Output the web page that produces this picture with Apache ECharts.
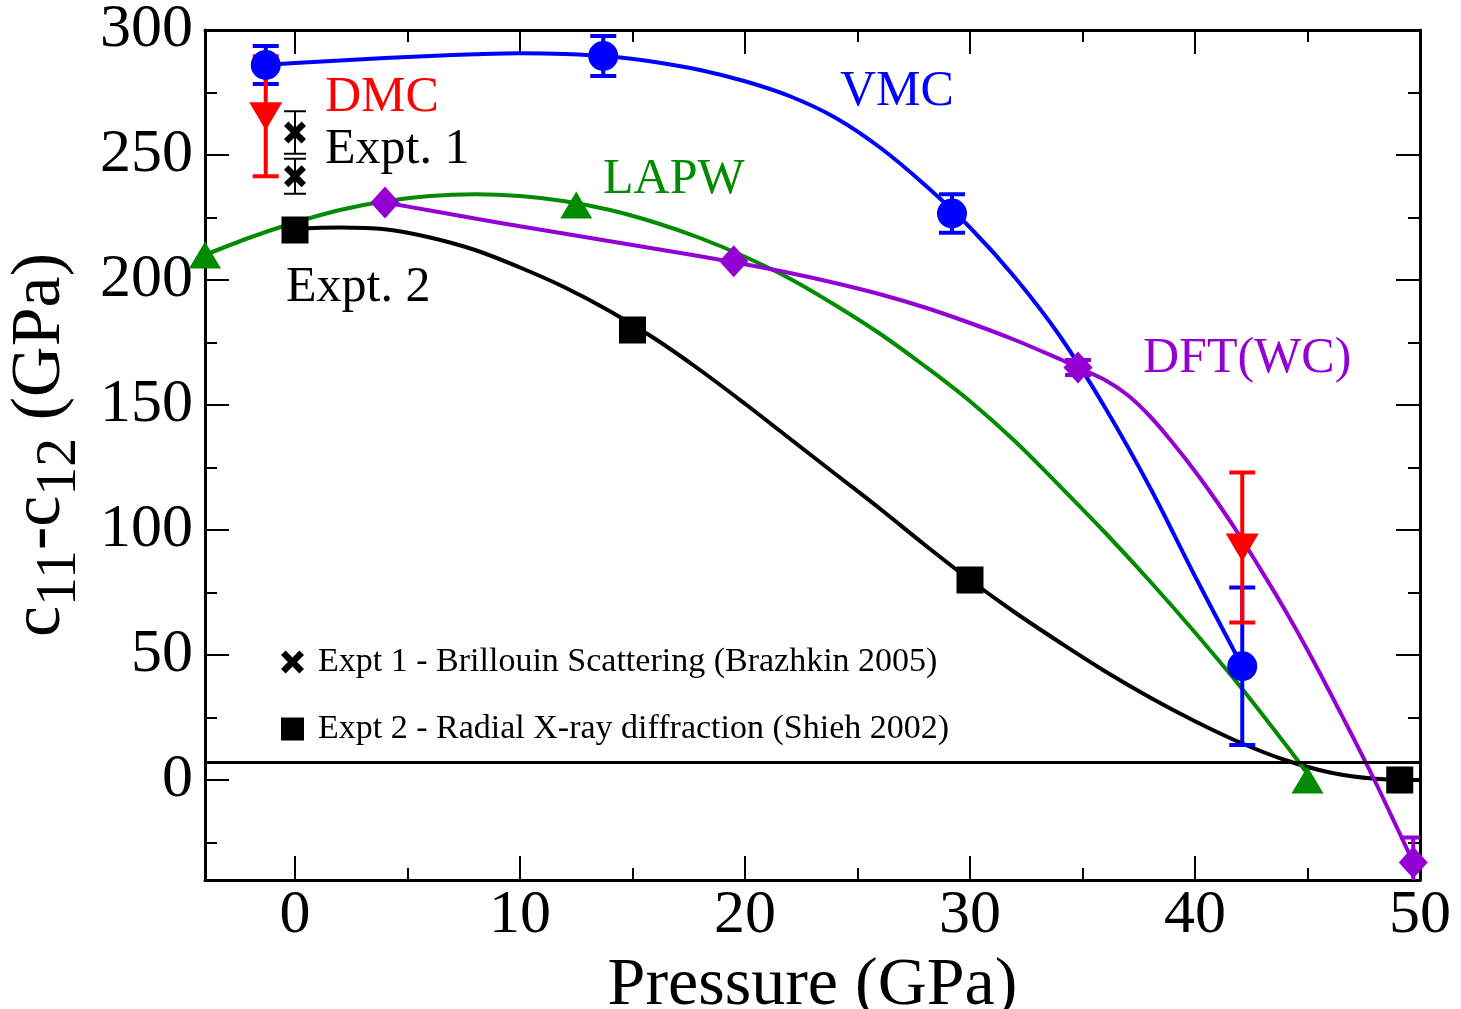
<!DOCTYPE html>
<html>
<head>
<meta charset="utf-8">
<title>c11-c12 vs pressure</title>
<script src="https://cdn.jsdelivr.net/npm/echarts@6/dist/echarts.min.js"></script>
<style>
    html, body { margin: 0; padding: 0; background: #fff; }
    #chart { width: 1461px; height: 1009px; }
</style>
</head>
<body>
<div id="chart"></div>
<script>
// 刻度
var xMajorTicks = [0, 10, 20, 30, 40, 50];
var xMinorTicks = [5, 15, 25, 35, 45];
var yMajorTicks = [0, 50, 100, 150, 200, 250, 300];
var yMinorTicks = [-25, 25, 75, 125, 175, 225, 275];

// 数据点 [pressure, value, error]
var vmcPoints = [[-1.3, 286, 7.6], [13.7, 289.6, 8], [29.2, 226.6, 7.7], [42.1, 45.5, 31.5]];
var dmcPoints = [[-1.3, 265.5, 24], [42.1, 93, 30]];
var expt1Points = [[0, 259, 8.5], [0, 241.5, 7]];
var expt2Points = [[0, 220], [15, 180], [30, 80], [49.1, 0]];
var lapwPoints = [[-4, 210], [12.5, 230], [45, 0]];
var dftPoints = [[4, 231, 0], [19.5, 207.5, 0], [34.8, 165, 3], [49.7, -33, 10]];

// 拟合曲线
var vmcCurve = [[-1.3, 286], [0, 286.8], [2, 287.8], [4, 288.8], [6, 289.6], [8, 290.3], [10, 290.7],
    [12, 290.4], [14, 289.4], [16, 287.2], [18, 284], [20, 279.5], [22, 273.5], [24, 265], [26, 253],
    [28, 238], [30, 221], [32, 201], [34, 177.5], [36, 149], [38, 117], [40, 81.5], [42.1, 45.5]];
var lapwCurve = [[-4, 210], [-2, 217], [0, 223], [2, 228], [4, 231.5], [6, 233.6], [8, 234.3],
    [10, 233.6], [12, 231.5], [14, 228], [16, 223], [18, 216.8], [20, 209.3], [22, 200.5], [24, 190],
    [26, 178.5], [28, 165.5], [30, 151.5], [32, 135.5], [34, 117.5], [36, 99], [38, 79.5], [40, 59],
    [42, 37.5], [44, 14.5], [45, 2.5]];
var expt2Curve = [[0, 220.5], [2, 221], [4, 220.3], [6, 217], [8, 212], [10, 205], [12, 197], [14, 187.5],
    [16, 176.5], [18, 164], [20, 150.5], [22, 136.5], [24, 122.5], [26, 108.5], [28, 94], [30, 80],
    [32, 67], [34, 55], [36, 43.5], [38, 33], [40, 23.5], [42, 15], [44, 8], [46, 3], [48, 0.5], [50, 0]];
var dftCurve = [[4, 231], [6, 227.8], [8, 224.6], [10, 221.5], [12, 218.5], [14, 215.5], [16, 212.5],
    [18, 209.5], [20, 206.3], [22, 202.8], [24, 198.8], [26, 194.3], [28, 189], [30, 182.8], [32, 176],
    [34, 168.3], [34.8, 165], [36, 160], [37, 154], [38, 145.5], [39, 135], [40, 123.5], [41, 111],
    [42, 97.5], [43, 83], [44, 68], [45, 52], [46, 35], [47, 17.5], [48, -0.5], [49, -19.5], [49.7, -33]];

// 水平参考线
var refLevel = 7;

var FONT = 'Liberation Serif';
var BLUE = '#0000ff', RED = '#ff0000', GREEN = '#008b00', VIOLET = '#9400d3', BLACK = '#000000';

var expt1Name = 'Expt 1 - Brillouin Scattering (Brazhkin 2005)';
var expt2Name = 'Expt 2 - Radial X-ray diffraction (Shieh 2002)';
var crossPath = 'path://M0,2L2,0L5,3L8,0L10,2L7,5L10,8L8,10L5,7L2,10L0,8L3,5Z';

/**
 * 误差棒
 */
function errorBar(capHalf, width, color) {
    return function (params, api) {
        var x = api.value(0), y = api.value(1), e = api.value(2);
        if (!e) {
            return null;
        }
        var hi = api.coord([x, y + e]);
        var lo = api.coord([x, y - e]);
        var style = { stroke: color, lineWidth: width, fill: null };
        return {
            type: 'group',
            children: [
                { type: 'line', shape: { x1: hi[0], y1: hi[1], x2: lo[0], y2: lo[1] }, style: style },
                { type: 'line', shape: { x1: hi[0] - capHalf, y1: hi[1], x2: hi[0] + capHalf, y2: hi[1] }, style: style },
                { type: 'line', shape: { x1: lo[0] - capHalf, y1: lo[1], x2: lo[0] + capHalf, y2: lo[1] }, style: style }
            ]
        };
    };
}

function curve(data, color) {
    return {
        type: 'line', data: data, smooth: 0.35, showSymbol: false, symbol: 'none',
        lineStyle: { color: color, width: 4 }, z: 3, silent: true
    };
}

function errSeries(data, capHalf, width, color) {
    return {
        type: 'custom', data: data, renderItem: errorBar(capHalf, width, color),
        encode: { x: 0, y: 1 }, z: 4, clip: true, silent: true
    };
}

function dots(name, data, symbol, size, color, extra) {
    var s = {
        type: 'scatter', name: name, data: data, symbol: symbol, symbolSize: size,
        itemStyle: { color: color, opacity: 1 }, z: 5, silent: true
    };
    return Object.assign(s, extra || {});
}

function axisX(grid, pos, ticks, len, withLabel) {
    return {
        type: 'value', gridIndex: grid, position: pos, min: -4, max: 50,
        axisLine: { show: grid === 0, onZero: false, lineStyle: { color: BLACK, width: 3 } },
        axisTick: { inside: true, length: len, customValues: ticks, lineStyle: { color: BLACK, width: 2 } },
        axisLabel: withLabel ? { customValues: ticks, fontFamily: FONT, fontSize: 62, color: BLACK, margin: 5 } : { show: false },
        splitLine: { show: false }
    };
}

function axisY(grid, pos, ticks, len, withLabel) {
    return {
        type: 'value', gridIndex: grid, position: pos, min: -40, max: 300,
        axisLine: { show: grid === 0, onZero: false, lineStyle: { color: BLACK, width: 3 } },
        axisTick: { inside: true, length: len, customValues: ticks, lineStyle: { color: BLACK, width: 2 } },
        axisLabel: withLabel ? { customValues: ticks, fontFamily: FONT, fontSize: 62, color: BLACK, margin: 12, padding: [8, 0, 0, 0] } : { show: false },
        splitLine: { show: false }
    };
}

var gridBox = { left: 205, right: 41, top: 30, bottom: 129, containLabel: false, outerBoundsMode: 'none' };

var xBottom = axisX(0, 'bottom', xMajorTicks, 24, true);
xBottom.name = 'Pressure (GPa)';
xBottom.nameLocation = 'middle';
xBottom.nameGap = 30;
xBottom.nameTextStyle = { fontFamily: FONT, fontSize: 68, color: BLACK };

var yLeft = axisY(0, 'left', yMajorTicks, 24, true);
yLeft.name = 'c{sub|11}-c{sub|12} (GPa)';
yLeft.nameLocation = 'middle';
yLeft.nameGap = 84;
yLeft.nameTextStyle = {
    fontFamily: FONT, fontSize: 70, color: BLACK, padding: [0, 0, 0, 20],
    rich: { sub: { fontFamily: FONT, fontSize: 58, color: BLACK, padding: [38, 0, 0, 0] } }
};

function label(text, x, y, color) {
    return {
        type: 'text', x: x, y: y, z: 10,
        style: { text: text, fill: color, font: '50px "' + FONT + '"', verticalAlign: 'middle' }
    };
}

var option = {
    animation: false,
    backgroundColor: '#fff',
    grid: [
        Object.assign({ id: 'major' }, gridBox),
        Object.assign({ id: 'minor' }, gridBox)
    ],
    xAxis: [
        xBottom,
        axisX(0, 'top', xMajorTicks, 24, false),
        axisX(1, 'bottom', xMinorTicks, 12, false),
        axisX(1, 'top', xMinorTicks, 12, false)
    ],
    yAxis: [
        yLeft,
        axisY(0, 'right', yMajorTicks, 24, false),
        axisY(1, 'left', yMinorTicks, 12, false),
        axisY(1, 'right', yMinorTicks, 12, false)
    ],
    legend: {
        data: [expt1Name, expt2Name],
        orient: 'vertical', left: 276, top: 640,
        itemWidth: 23, itemHeight: 23, itemGap: 33,
        selectedMode: false,
        textStyle: { fontFamily: FONT, fontSize: 34, lineHeight: 34, color: BLACK, padding: [0, 0, 0, 9] }
    },
    graphic: [
        label('VMC', 840, 92, BLUE),
        label('DMC', 325, 98, RED),
        label('Expt. 1', 325, 150, BLACK),
        label('LAPW', 603, 180, GREEN),
        label('Expt. 2', 286, 288, BLACK),
        label('DFT(WC)', 1143, 359, VIOLET)
    ],
    series: [
        // 曲线
        curve(expt2Curve, BLACK),
        curve(lapwCurve, GREEN),
        curve(dftCurve, VIOLET),
        curve(vmcCurve, BLUE),
        {
            type: 'line', data: [], silent: true,
            markLine: {
                silent: true, symbol: 'none', label: { show: false },
                lineStyle: { color: BLACK, width: 3, type: 'solid' },
                data: [{ yAxis: refLevel }]
            }
        },
        // 误差棒
        errSeries(expt1Points, 11, 2, BLACK),
        errSeries(dftPoints, 13, 4, VIOLET),
        errSeries(vmcPoints, 13, 4, BLUE),
        errSeries(dmcPoints, 13, 4, RED),
        // 数据点
        dots('LAPW', lapwPoints, 'triangle', [32, 27], GREEN),
        dots(expt2Name, expt2Points, 'rect', 27, BLACK),
        dots('DFT(WC)', dftPoints, 'diamond', [29, 32], VIOLET),
        dots('VMC', vmcPoints, 'circle', 30, BLUE),
        dots('DMC', dmcPoints, 'triangle', [33, 28], RED, { symbolRotate: 180, z: 6 }),
        dots(expt1Name, expt1Points, crossPath, 22, BLACK, { z: 6 })
    ]
};

var chart = echarts.init(document.getElementById('chart'), null, { renderer: 'canvas' });
chart.setOption(option);
</script>
</body>
</html>
